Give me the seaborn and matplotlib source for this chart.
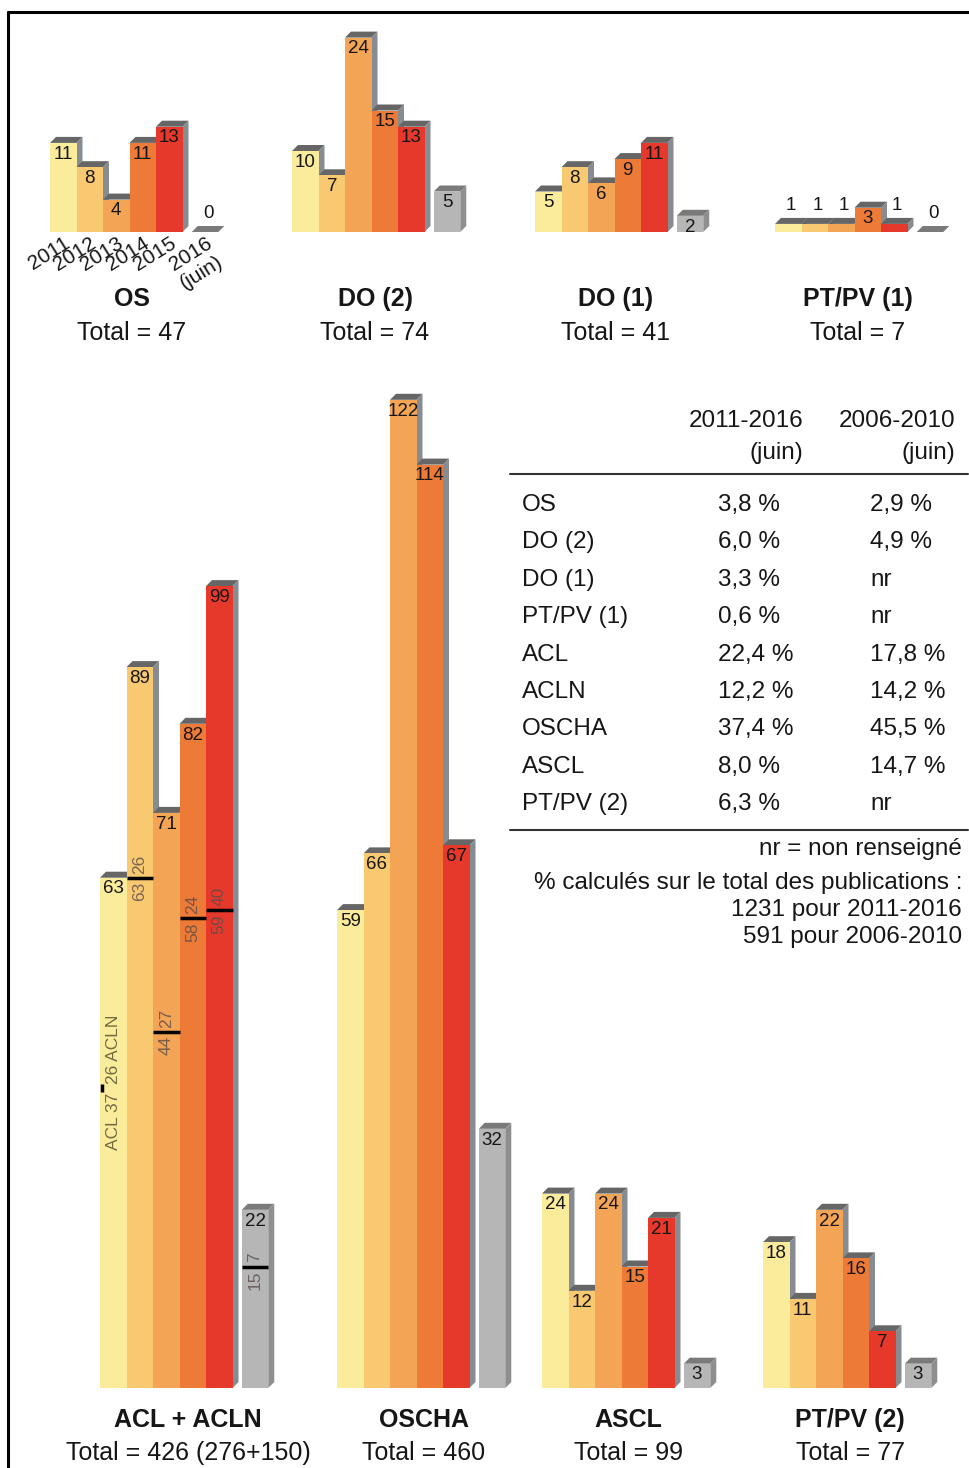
import numpy as np
import pandas as pd
import matplotlib
matplotlib.use('Agg')
import matplotlib.pyplot as plt
import seaborn as sns
from matplotlib.patches import Polygon
from matplotlib.lines import Line2D

# ---- data ----
years = ['2011', '2012', '2013', '2014', '2015', '2016 (juin)']
os_vals = [11, 8, 4, 11, 13, 0]
do2_vals = [10, 7, 24, 15, 13, 5]
do1_vals = [5, 8, 6, 9, 11, 2]
ptpv1_vals = [1, 1, 1, 3, 1, 0]
acl_total = [63, 89, 71, 82, 99, 22]
acl_part = [37, 63, 44, 58, 59, 15]
acln_part = [26, 26, 27, 24, 40, 7]
oscha_vals = [59, 66, 122, 114, 67, 32]
ascl_vals = [24, 12, 24, 15, 21, 3]
ptpv2_vals = [18, 11, 22, 16, 7, 3]

table_rows = ['OS', 'DO (2)', 'DO (1)', 'PT/PV (1)', 'ACL', 'ACLN', 'OSCHA', 'ASCL', 'PT/PV (2)']
pct_2011 = ['3,8 %', '6,0 %', '3,3 %', '0,6 %', '22,4 %', '12,2 %', '37,4 %', '8,0 %', '6,3 %']
pct_2006 = ['2,9 %', '4,9 %', 'nr', 'nr', '17,8 %', '14,2 %', '45,5 %', '14,7 %', 'nr']
pub_2011 = 1231
pub_2006 = 591

colors = ['#FBEC9C', '#F8C970', '#F4A455', '#ED7A36', '#E6392B', '#B6B6B6']
positions = [0, 1, 2, 3, 4, 5.35]

# ---- layout (pixels) ----
W, H = 969, 1468
BW = 26.5      # px per bar
UNIT = 8.1     # px per publication
DX = 6 / BW
DY = 6 / UNIT
INK = '#161616'

sns.set_theme(style='white')
plt.rcParams['font.family'] = ['Liberation Sans', 'DejaVu Sans']

fig = plt.figure(figsize=(W / 100, H / 100), dpi=100)
fig.patch.set_facecolor('white')


def ftext(x, y, s, **kw):
    fig.text(x / W, 1 - y / H, s, **kw)


def draw_group(vals, x0, ybase, ytop):
    ax = fig.add_axes([x0 / W, 1 - ybase / H, 7.1 * BW / W, (ybase - ytop) / H])
    ax.patch.set_alpha(0)
    df = pd.DataFrame({'pos': positions, 'year': years, 'n': vals})
    sns.barplot(data=df, x='pos', y='n', hue='year', hue_order=years,
                palette=dict(zip(years, colors)), native_scale=True, width=1,
                saturation=1, errorbar=None, linewidth=0, legend=False, ax=ax)
    ax.set_xlim(-0.5, 6.6)
    ax.set_ylim(0, (ybase - ytop) / UNIT)
    bars = sorted(ax.patches, key=lambda p: p.get_x())
    for i, p in enumerate(bars):
        x, w, h = p.get_x(), p.get_width(), p.get_height()
        p.set_zorder(3)
        gray = i == len(bars) - 1
        topc = '#7a7a7a' if gray else '#666666'
        sidec = '#8e8e8e' if gray else '#878c93'
        ax.add_patch(Polygon([(x, h), (x + w, h), (x + w + DX, h + DY), (x + DX, h + DY)],
                             closed=True, color=topc, zorder=2, lw=0))
        ax.add_patch(Polygon([(x + w, 0), (x + w, h), (x + w + DX, h + DY), (x + w + DX, DY)],
                             closed=True, color=sidec, zorder=2, lw=0))
    for pos, v in zip(positions, vals):
        if v >= 2:
            ax.annotate(str(v), (pos, v), xytext=(0, -2), textcoords='offset points',
                        ha='center', va='top', fontsize=13.5, color=INK, zorder=5)
        else:
            ax.annotate(str(v), (pos + DX / 2, v + DY), xytext=(0, 3), textcoords='offset points',
                        ha='center', va='bottom', fontsize=13.5, color=INK, zorder=5)
    ax.set_xlabel('')
    ax.set_ylabel('')
    ax.set_yticks([])
    ax.set_xticks([])
    for s in ax.spines.values():
        s.set_visible(False)
    return ax


# top row
ax_os = draw_group(os_vals, 50, 232, 20)
draw_group(do2_vals, 292, 232, 20)
draw_group(do1_vals, 535, 232, 20)
draw_group(ptpv1_vals, 775, 232, 20)

ax_os.set_xticks(positions)
ax_os.set_xticklabels([y.replace(' ', '\n') for y in years], rotation=32, ha='right',
                      va='top', rotation_mode='anchor', fontsize=15, color=INK)
ax_os.tick_params(axis='x', length=0, pad=1)

# bottom row
ax_acl = draw_group(acl_total, 100, 1388, 380)
draw_group(oscha_vals, 337, 1388, 380)
draw_group(ascl_vals, 542, 1388, 380)
draw_group(ptpv2_vals, 763, 1388, 380)

# ACL / ACLN split inside the ACL + ACLN bars
acl_bars = sorted([p for p in ax_acl.patches if p.get_zorder() == 3], key=lambda p: p.get_x())
for i, p in enumerate(acl_bars):
    x, w = p.get_x(), p.get_width()
    xc = x + w / 2
    s = acl_part[i]
    if i == 0:
        ax_acl.plot([x + 0.08, x + 0.08], [s - 0.5, s + 0.5], color='black', lw=2.5, zorder=4,
                    solid_capstyle='butt')
        low, high = f'ACL {acl_part[i]}', f'{acln_part[i]} ACLN'
        tcol = '#4f4a2a'
    else:
        ax_acl.plot([x, x + w], [s, s], color='black', lw=2.5, zorder=4, solid_capstyle='butt')
        low, high = str(acl_part[i]), str(acln_part[i])
        tcol = '#5a4d4a'
    ax_acl.text(xc, s - 0.5, low, rotation=90, ha='center', va='top', fontsize=12.5,
                color=tcol, alpha=0.8, zorder=5)
    ax_acl.text(xc, s + 0.5, high, rotation=90, ha='center', va='bottom', fontsize=12.5,
                color=tcol, alpha=0.8, zorder=5)

# titles
top_titles = [('OS', 132, os_vals), ('DO (2)', 375, do2_vals), ('DO (1)', 616, do1_vals),
              ('PT/PV (1)', 858, ptpv1_vals)]
for name, xc, vals in top_titles:
    ftext(xc, 299, name, ha='center', va='center', fontsize=18, fontweight='bold', color=INK)
    ftext(xc, 333, f'Total = {sum(vals)}', ha='center', va='center', fontsize=18, color=INK)

ftext(188, 1420, 'ACL + ACLN', ha='center', va='center', fontsize=18, fontweight='bold', color=INK)
ftext(188, 1453, f'Total = {sum(acl_total)} ({sum(acl_part)}+{sum(acln_part)})',
      ha='center', va='center', fontsize=18, color=INK)
bottom_titles = [('OSCHA', 424, oscha_vals), ('ASCL', 628, ascl_vals), ('PT/PV (2)', 850, ptpv2_vals)]
for name, xc, vals in bottom_titles:
    ftext(xc, 1420, name, ha='center', va='center', fontsize=18, fontweight='bold', color=INK)
    ftext(xc, 1453, f'Total = {sum(vals)}', ha='center', va='center', fontsize=18, color=INK)

# table
tfs = 17.5
ftext(803, 421, '2011-2016', ha='right', va='center', fontsize=tfs, color=INK)
ftext(803, 453, '(juin)', ha='right', va='center', fontsize=tfs, color=INK)
ftext(955, 421, '2006-2010', ha='right', va='center', fontsize=tfs, color=INK)
ftext(955, 453, '(juin)', ha='right', va='center', fontsize=tfs, color=INK)
for yy in (474, 830):
    fig.add_artist(Line2D([510 / W, 968 / W], [1 - yy / H, 1 - yy / H], color='#333333', lw=1.5))
for i, (r, a, b) in enumerate(zip(table_rows, pct_2011, pct_2006)):
    yy = 505 + i * 37.4
    ftext(522, yy, r, ha='left', va='center', fontsize=tfs, color=INK)
    ftext(718, yy, a, ha='left', va='center', fontsize=tfs, color=INK)
    ftext(870, yy, b, ha='left', va='center', fontsize=tfs, color=INK)

ftext(962, 849, 'nr = non renseigné', ha='right', va='center', fontsize=tfs, color=INK)
ftext(962, 883, '% calculés sur le total des publications :', ha='right', va='center',
      fontsize=tfs, color=INK)
ftext(962, 910, f'{pub_2011} pour 2011-2016', ha='right', va='center', fontsize=tfs, color=INK)
ftext(962, 937, f'{pub_2006} pour 2006-2010', ha='right', va='center', fontsize=tfs, color=INK)

# frame
fig.add_artist(Line2D([8 / W, 1], [1 - 12 / H, 1 - 12 / H], color='black', lw=2.2))
fig.add_artist(Line2D([8 / W, 8 / W], [0, 1 - 12 / H], color='black', lw=2.2))

fig.savefig('out.png', dpi=100)
